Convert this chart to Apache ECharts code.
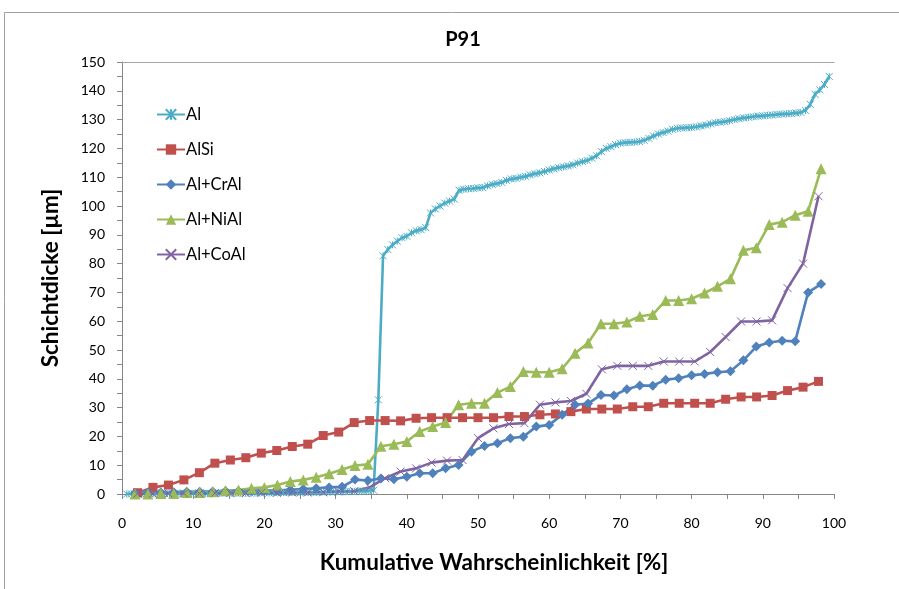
<!DOCTYPE html>
<html><head><meta charset="utf-8">
<script src="https://cdn.jsdelivr.net/npm/echarts@6/dist/echarts.min.js"></script>
<style>html,body{margin:0;padding:0;background:#fff}#c{width:899px;height:589px}</style>
</head><body><div id="c"></div>
<script>
const titleText = 'P91';
const xAxisName = 'Kumulative Wahrscheinlichkeit [%]';
const yAxisName = 'Schichtdicke [µm]';
const seriesNames = ['Al', 'AlSi', 'Al+CrAl', 'Al+NiAl', 'Al+CoAl'];

// Schichtdicke values (sorted)
const al = [
  0,0,0,0,0,0,0.1,0.1,0.1,0.1,
  0.1,0.1,0.1,0.2,0.2,0.2,0.2,0.2,0.2,0.2,
  0.3,0.3,0.3,0.3,0.3,0.3,0.3,0.4,0.4,0.4,
  0.4,0.4,0.5,0.5,0.5,0.5,0.5,0.6,0.6,0.6,
  0.6,0.7,0.7,0.7,0.8,0.8,0.8,0.9,0.9,1.0,
  1.0,1.1,1.3,32.7,82.7,84.9,86.5,87.8,89.0,89.5,
  90.7,91.4,91.8,92.5,97.6,99.0,100.0,101.0,101.7,102.4,
  105.5,105.8,106.0,106.1,106.3,106.4,107.0,107.5,107.8,108.2,
  108.9,109.4,109.6,110.0,110.3,110.8,111.2,111.5,112.0,112.5,
  112.9,113.3,113.6,113.9,114.3,114.9,115.4,115.8,116.6,117.4,
  118.9,120.0,120.6,121.3,121.8,122.0,122.1,122.2,122.4,122.8,
  123.5,124.3,125.0,125.5,126.0,126.6,127.0,127.1,127.2,127.3,
  127.5,127.8,128.1,128.5,128.9,129.1,129.3,129.6,130.0,130.3,
  130.6,130.8,131.0,131.2,131.3,131.5,131.6,131.8,131.9,132.0,
  132.1,132.3,132.5,133.2,135.3,138.8,140.3,142.2,145.0
];
const alSi = [
  0.45,2.3,3.1,4.9,7.4,10.7,11.8,12.6,14.2,15.1,
  16.5,17.3,20.3,21.5,24.8,25.5,25.5,25.4,26.3,26.5,
  26.5,26.5,26.5,26.5,26.9,26.9,27.5,27.8,28.6,29.5,
  29.5,29.5,30.3,30.3,31.5,31.5,31.5,31.5,32.9,33.7,
  33.7,34.2,35.9,37.1,39.1
];
const alCrAl = [
  0.3,0.5,0.5,0.6,0.8,0.8,0.9,1.0,1.0,1.1,
  1.2,1.3,1.5,1.7,2.0,2.3,2.5,5.0,4.7,5.4,
  5.1,6.0,7.2,7.2,8.9,10.1,14.7,16.7,17.6,19.4,
  19.9,23.4,24.0,27.5,31.0,31.4,34.4,34.2,36.4,37.7,
  37.6,39.7,40.2,41.2,41.7,42.3,42.6,46.4,51.2,52.6,
  53.2,53.0,70.0,72.9
];
const alNiAl = [
  0,0,0.2,0.2,0.5,0.5,0.8,1.2,1.4,2.0,
  2.3,3.1,4.3,4.9,5.8,7.0,8.5,9.9,10.3,16.6,
  17.3,18.2,21.7,23.4,24.8,31.0,31.5,31.5,35.2,37.3,
  42.5,42.3,42.3,43.5,48.9,52.4,59.1,59.1,59.7,61.7,
  62.3,67.2,67.2,67.8,69.8,72.1,74.7,84.6,85.5,93.6,
  94.4,96.8,98.2,112.9
];
const alCoAl = [
  0.1,0.1,0.2,0.2,0.2,0.3,0.3,0.3,0.4,0.4,
  0.5,0.5,0.6,0.9,1.0,2.3,5.5,7.8,8.9,10.9,
  11.6,11.8,19.4,22.8,24.3,24.6,31.0,31.8,32.3,34.8,
  43.3,44.5,44.5,44.5,46.0,46.0,46.0,49.3,54.5,59.9,
  59.9,60.3,71.5,80.0,103.4
];
const xTicks = [0,10,20,30,40,50,60,70,80,90,100];
const yTicks = [0,10,20,30,40,50,60,70,80,90,100,110,120,130,140,150];

// cumulative probability plotting position i/(n+1)
function cumulative(vals) {
  const n = vals.length;
  return vals.map((v, i) => [(i + 1) / (n + 1) * 100, v]);
}

const colors = ['#4BACC6', '#C0504D', '#4F81BD', '#9BBB59', '#8064A2'];
const symAst = 'path://M0,0L10,10M0,10L10,0M5,0L5,10';
const symX = 'path://M0,0L10,10M0,10L10,0';
const FONT = 'Lato, "Open Sans", sans-serif';

function mk(name, vals, color, symbol, size, stroke) {
  return {
    name: name, type: 'line', data: cumulative(vals),
    symbol: symbol, symbolSize: size,
    lineStyle: { color: color, width: 2.6 },
    itemStyle: stroke ? { color: color, borderColor: color, borderWidth: 1 } : { color: color },
    emphasis: { disabled: true }, animation: false
  };
}

const chart = echarts.init(document.getElementById('c'), null, { renderer: 'canvas' });
chart.setOption({
  animation: false,
  backgroundColor: '#fff',
  graphic: [{
    type: 'rect', shape: { x: 4.5, y: 12.5, width: 1000, height: 1000 },
    style: { fill: 'none', stroke: '#a0a0a0', lineWidth: 1 }, silent: true, z: -1
  }],
  title: {
    text: titleText, left: 458, top: 25, textAlign: 'center',
    textStyle: { fontFamily: FONT, fontSize: 20, fontWeight: 'bold', color: '#000' }
  },
  legend: {
    orient: 'vertical', left: 151, top: 101, itemWidth: 28, itemHeight: 13, itemGap: 18,
    textStyle: { fontFamily: FONT, fontSize: 16.5, color: '#000', padding: [0, 0, 0, -4] },
    data: seriesNames
  },
  grid: { left: 122, right: 65, top: 62, bottom: 95, containLabel: false },
  xAxis: [{
    type: 'value', min: 0, max: 100, interval: 5,
    name: xAxisName, nameLocation: 'middle', nameGap: 57,
    nameTextStyle: { fontFamily: FONT, fontSize: 22.5, fontWeight: 'bold', color: '#000', padding: [0, 0, 0, 32] },
    axisLine: { lineStyle: { color: '#868686', width: 1 } },
    axisTick: { show: true, length: 5, lineStyle: { color: '#868686' } },
    axisLabel: {
      fontFamily: FONT, fontSize: 14, color: '#000', margin: 22,
      formatter: v => xTicks.indexOf(v) >= 0 ? String(v) : ''
    },
    splitLine: { show: false }
  }, {
    type: 'value', position: 'top', min: 0, max: 100,
    axisLine: { show: true, lineStyle: { color: '#a6a6a6', width: 1 } },
    axisTick: { show: false }, axisLabel: { show: false }, splitLine: { show: false }
  }],
  yAxis: {
    type: 'value', min: 0, max: 150, interval: 5,
    name: yAxisName, nameLocation: 'middle', nameGap: 60,
    nameTextStyle: { fontFamily: FONT, fontSize: 22.5, fontWeight: 'bold', color: '#000' },
    axisLine: { show: true, lineStyle: { color: '#868686', width: 1 } },
    axisTick: { show: true, length: 5, lineStyle: { color: '#868686' } },
    axisLabel: {
      fontFamily: FONT, fontSize: 14, color: '#000', margin: 17,
      formatter: v => yTicks.indexOf(v) >= 0 ? String(v) : ''
    },
    splitLine: { show: false }
  },
  series: [
    mk(seriesNames[0], al, colors[0], symAst, 7, true),
    mk(seriesNames[1], alSi, colors[1], 'rect', 9, false),
    mk(seriesNames[2], alCrAl, colors[2], 'diamond', 10, false),
    mk(seriesNames[3], alNiAl, colors[3], 'triangle', 11, false),
    mk(seriesNames[4], alCoAl, colors[4], symX, 8, true)
  ]
});
</script></body></html>
